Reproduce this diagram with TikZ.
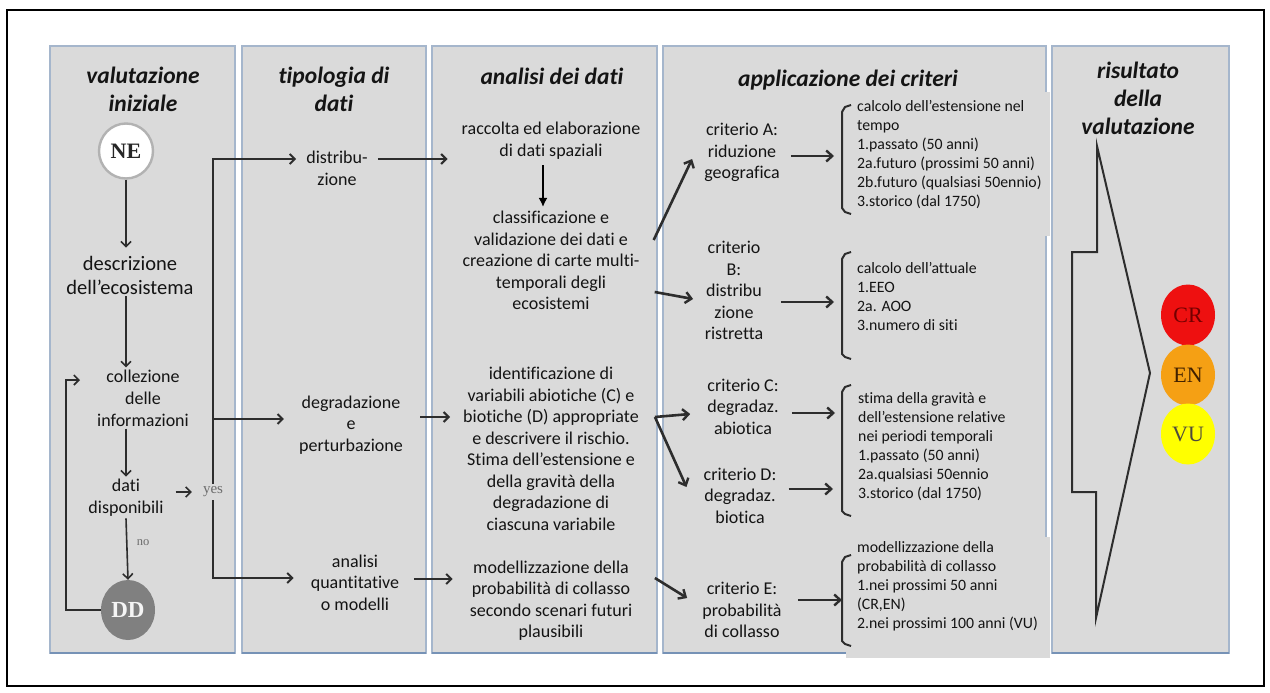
\documentclass[tikz,border=0pt]{standalone}
\usepackage{fontspec}
\setmainfont{Carlito}[Ligatures=NoCommon]
\newfontfamily\serfont{Liberation Serif}
\usetikzlibrary{arrows.meta,calc,shapes.geometric}
\definecolor{panelfill}{RGB}{218,218,218}
\definecolor{panelborder}{RGB}{165,182,204}
\definecolor{panelbottom}{RGB}{118,146,182}
\definecolor{ink}{RGB}{20,20,20}
\definecolor{arrowc}{RGB}{45,45,45}
\definecolor{crred}{RGB}{238,16,16}
\definecolor{enorange}{RGB}{245,160,20}
\definecolor{vuyellow}{RGB}{255,255,0}
\begin{document}
\begin{tikzpicture}[x=1pt,y=-1pt,
  panel/.style={fill=panelfill,draw=panelborder,line width=1.6pt},
  pbottom/.style={draw=panelbottom,line width=2pt},
  ttl/.style={font=\fontsize{23.5}{28}\selectfont\bfseries\itshape,align=center,text=ink,inner sep=0pt},
  txt/.style={font=\fontsize{18}{21.5}\selectfont,align=center,text=ink,inner sep=2pt},
  lst/.style={font=\fontsize{15.8}{19}\selectfont,align=left,text=ink,anchor=west,inner sep=0pt},
  yn/.style={font=\serfont\fontsize{15}{15}\selectfont,text=gray!85!black,inner sep=3pt},
  tarr/.style={draw=arrowc,line width=1.6pt,-{Straight Barb[length=5pt,width=10pt,line width=1.6pt]}},
  marr/.style={draw=arrowc,line width=2pt,-{Straight Barb[length=5pt,width=10pt,line width=2pt]}},
  barr/.style={draw=arrowc,line width=2.6pt,-{Straight Barb[length=6pt,width=11pt,line width=2.4pt]}},
  karr/.style={draw=black,line width=2.4pt,-{Latex[length=9pt,width=9pt]}},
  brk/.style={draw=arrowc,line width=2pt,line join=round},
  circ/.style={ellipse,minimum width=54pt,minimum height=58pt,inner sep=0pt,font=\serfont\fontsize{22}{22}\selectfont}
]
\useasboundingbox (0,0) rectangle (1270,693);
\fill[white] (0,0) rectangle (1270,693);
\draw[black,line width=2.4pt] (7,10) rectangle (1264,686);

% panels
\path[panel] (50,46) rectangle (235,653);
\path[panel] (242,46) rectangle (426,653);
\path[panel] (432,46) rectangle (657,653);
\path[panel] (663,46) rectangle (1046,653);
\path[panel] (1052,46) rectangle (1229,653);
\draw[pbottom] (50,653) -- (235,653);
\draw[pbottom] (242,653) -- (426,653);
\draw[pbottom] (432,653) -- (657,653);
\draw[pbottom] (663,653) -- (1046,653);
\draw[pbottom] (1052,653) -- (1229,653);
% pasted text boxes hiding the border
\fill[panelfill] (850,92) rectangle (1050,236);
\fill[panelfill] (846,537) rectangle (1050,658);

% titles
\node[ttl] (t1) at (143,89) {valutazione\\iniziale};
\node[ttl] (t2) at (334,89) {tipologia di\\dati};
\node[ttl] (t3) at (552,76) {analisi dei dati};
\node[ttl] (t4) at (848,80) {applicazione dei criteri};
\node[ttl] (t5) at (1138,98.5) {risultato\\della\\valutazione};

% panel 1
\node[circ,draw=gray!60,line width=2.4pt,fill=white,text=gray!30!black,font=\serfont\bfseries\fontsize{22}{22}\selectfont,minimum width=54pt,minimum height=55pt] (NE) at (126,151) {NE};
\node[txt,font=\fontsize{20.5}{24}\selectfont] (desc) at (130,275) {descrizione\\dell’ecosistema};
\node[txt,font=\fontsize{18}{22}\selectfont] (coll) at (143,398) {collezione\\delle\\informazioni};
\node[txt,font=\fontsize{18}{22}\selectfont] (dati) at (126,497.5) {dati\\disponibili};
\node[yn] (yes) at (213,492) {yes};
\node[yn,font=\serfont\fontsize{12.5}{12.5}\selectfont] (no) at (143,543) {no};
\node[circ,fill=gray,text=white!92!gray,font=\serfont\bfseries\fontsize{23}{23}\selectfont,minimum height=60pt] (DD) at (128,610) {DD};
\coordinate (loopend) at (80,380);

\draw[tarr] (NE.south) -- ($(desc.north -| NE)+(0,-6)$);
\draw[tarr] (desc.south -| NE) -- (coll.north -| NE);
\draw[tarr] (coll.south -| NE) -- (dati.north -| NE);
\draw[tarr] (dati.south -| NE) -- (DD.north);
\draw[tarr] ($(dati.east |- yes)+(10,0)$) -- ($(yes.west)+(-8,0)$);
\draw[tarr] (DD.west) -- ++(-35,0) |- (loopend);

% panel 2
\node[txt] (distr) at (337,168.5) {distribu-\\zione};
\node[txt] (degr) at (351,425) {degradazione\\e\\perturbazione};
\node[txt] (anal) at (355,582.5) {analisi\\quantitative\\o modelli};
\coordinate (dIn) at ($(distr.west)+(-8,-9.5)$);
\coordinate (gIn) at ($(degr.west)+(-13,-6)$);
\coordinate (aIn) at ($(anal.west)+(-15,-4.5)$);
\draw[marr] (yes.north) |- (dIn);
\draw[marr] (yes.north |- gIn) -- (gIn);
\draw[marr] (yes.south) |- (aIn);

% panel 3
\node[txt] (racc) at (551,140.5) {raccolta ed elaborazione\\di dati spaziali};
\node[txt] (class) at (551,260.5) {classificazione e\\validazione dei dati e\\creazione di carte multi-\\temporali degli\\ecosistemi};
\node[txt] (ident) at (551,449) {identificazione di\\variabili abiotiche (C) e\\biotiche (D) appropriate\\e descrivere il rischio.\\Stima dell’estensione e\\della gravità della\\degradazione di\\ciascuna variabile};
\node[txt] (model) at (551,600.5) {modellizzazione della\\probabilità di collasso\\secondo scenari futuri\\plausibili};
\draw[karr] ($(racc.south)+(-8,4)$) -- ($(class.north)+(-8,-2)$);
\draw[marr] ($(distr.east)+(8,-9.5)$) -- ($(racc.west)+(-12,18.5)$);
\draw[marr] ($(degr.east)+(15,-8)$) -- ($(ident.west)+(-11,-32)$);
\draw[marr] ($(anal.east)+(12.5,-3.5)$) -- ($(model.west)+(-15,-21.5)$);

% panel 4
\node[txt] (critA) at (742,152.5) {criterio A:\\riduzione\\geografica};
\node[txt] (critB) at (734,290.5) {criterio\\B:\\distribu\\zione\\ristretta};
\node[txt] (critC) at (743,406.5) {criterio C:\\degradaz.\\abiotica};
\node[txt] (critD) at (740,495.5) {criterio D:\\degradaz.\\biotica};
\node[txt] (critE) at (742,610) {criterio E:\\probabilità\\di collasso};

\coordinate (brA) at (834,156);
\coordinate (brB) at (834,302);
\coordinate (brC) at (835,413);
\coordinate (brD) at (833,489);
\coordinate (brE) at (842,600);
\coordinate (split) at ($(ident.east)+(14,-32)$);

\draw[barr] ($(class.east)+(12,-20.5)$) -- ($(critA.west)+(-10,6.5)$);
\draw[barr] ($(class.east)+(13,31.5)$) -- ($(critB.west)+(-9.5,8.5)$);
\draw[barr] (split) -- ($(critC.west)+(-15,7.5)$);
\draw[barr] (split) -- ($(critD.west)+(-15,-8.5)$);
\draw[barr] ($(model.east)+(20.5,-22.5)$) -- ($(critE.west)+(-13,-12)$);

\draw[barr] ($(critA.east |- brA)+(9,0)$) -- (brA);
\draw[barr] ($(critB.east |- brB)+(15.5,0)$) -- (brB);
\draw[barr] ($(critC.east |- brC)+(11,0)$) -- (brC);
\draw[barr] ($(critD.east |- brD)+(10,0)$) -- (brD);
\draw[barr] ($(critE.east |- brE)+(14,0)$) -- (brE);

% brackets
\draw[brk] (851,105) -- (845,107) -- (842,112) -- (842,208) -- (845,212) -- (851,214);
\draw[brk] (851,252) -- (845,254) -- (842,259) -- (842,354) -- (845,357) -- (851,359);
\draw[brk] (851,385) -- (845,387) -- (842,392) -- (842,511) -- (845,514) -- (851,516);
\draw[brk] (851,555) -- (845,557) -- (842,562) -- (842,641) -- (845,644) -- (851,646);

\node[lst] (lA) at (857,154.5) {calcolo dell’estensione nel\\tempo\\1.passato (50 anni)\\2a.futuro (prossimi 50 anni)\\2b.futuro (qualsiasi 50ennio)\\3.storico (dal 1750)};
\node[lst] (lB) at (857,296.5) {calcolo dell’attuale\\1.EEO\\2a. AOO\\3.numero di siti};
\node[lst] (lCD) at (858,447) {stima della gravità e\\dell’estensione relative\\nei periodi temporali\\1.passato (50 anni)\\2a.qualsiasi 50ennio\\3.storico (dal 1750)};
\node[lst] (lE) at (857,586.5) {modellizzazione della\\probabilità di collasso\\1.nei prossimi 50 anni\\(CR,EN)\\2.nei prossimi 100 anni (VU)};

% panel 5
\draw[draw=arrowc,line width=2pt,line join=miter] (1097,146) -- (1150,373) -- (1096,618) -- (1096,492) -- (1072,492) -- (1072,252) -- (1097,252) -- cycle;
\node[circ,fill=crred,text=red!45!black,minimum height=61pt] (CR) at (1188,315) {CR};
\node[circ,fill=enorange,text=black!75!orange,minimum height=61pt] (EN) at (1188,375) {EN};
\node[circ,fill=vuyellow,text=black!80!yellow,minimum height=61pt] (VU) at (1188,434) {VU};
\end{tikzpicture}
\end{document}
